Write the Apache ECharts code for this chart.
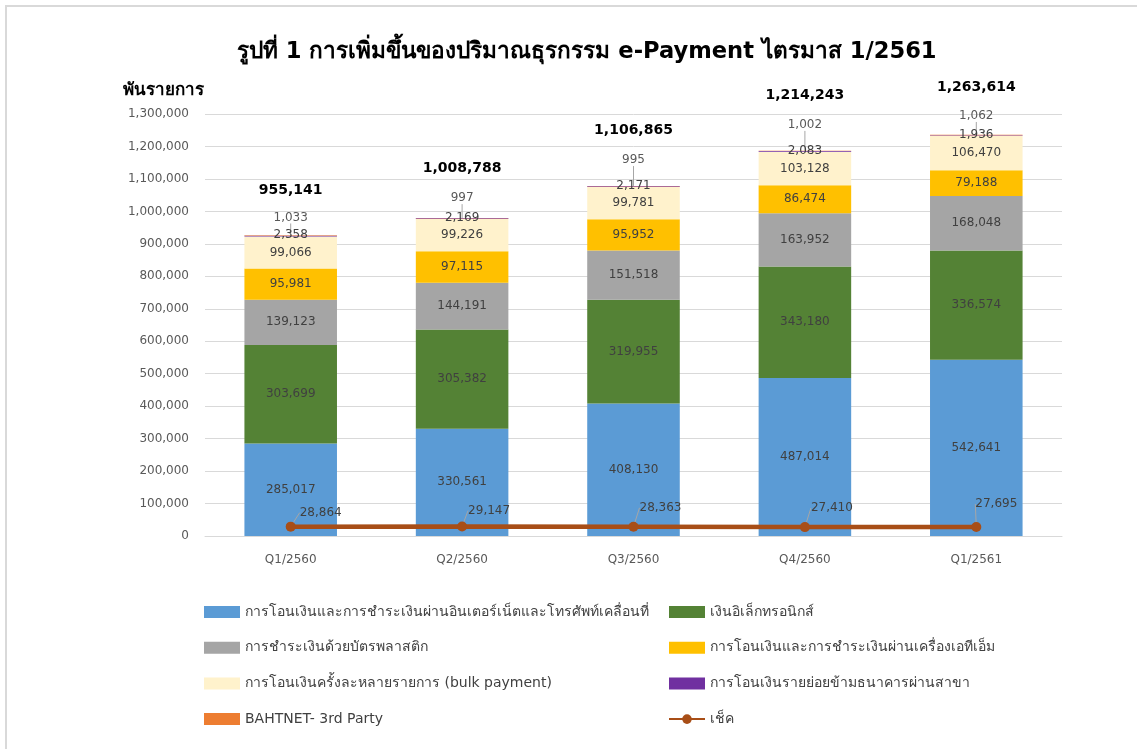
<!DOCTYPE html>
<html>
<head>
<meta charset="utf-8">
<script src="https://cdn.jsdelivr.net/npm/echarts@6/dist/echarts.min.js"></script>
<style>
  html, body { margin: 0; padding: 0; background: #fff; overflow: hidden; }
  #frame { position: absolute; left: 5px; top: 5px; width: 1140px; height: 760px; border: 2px solid #d9d9d9; box-sizing: border-box; }
  #chart { position: absolute; left: 0; top: 0; width: 1137px; height: 749px; }
</style>
</head>
<body>
<div id="frame"></div>
<div id="chart"></div>
<script>
  const quarters = ["Q1/2560", "Q2/2560", "Q3/2560", "Q4/2560", "Q1/2561"];

  const internetMobile = [285017, 330561, 408130, 487014, 542641];
  const eMoney = [303699, 305382, 319955, 343180, 336574];
  const cardPayment = [139123, 144191, 151518, 163952, 168048];
  const atm = [95981, 97115, 95952, 86474, 79188];
  const bulkPayment = [99066, 99226, 99781, 103128, 106470];
  const branchRetail = [2358, 2169, 2171, 2083, 1936];
  const bahtnet = [1033, 997, 995, 1002, 1062];
  const cheque = [28864, 29147, 28363, 27410, 27695];
  const totals = [955141, 1008788, 1106865, 1214243, 1263614];

  const FONT = "Tahoma, 'DejaVu Sans', 'Noto Sans', sans-serif";
  const fmt = (v) => v.toLocaleString("en-US");

  // label shifts (pixels)
  const totalDy = [-45, -50, -56, -55, -47];
  const bahtnetDy = [-18, -20, -26, -26, -19];
  const chequeShift = [[30, -14], [27, -16], [27, -19], [27, -19], [20, -23]];

  const chart = echarts.init(document.getElementById("chart"));

  const segLabel = {
    show: true,
    position: "inside",
    fontFamily: FONT,
    fontSize: 12,
    color: "#404040",
    formatter: (p) => fmt(p.value),
  };

  function barSeries(name, data, color, extra) {
    return Object.assign(
      {
        name: name,
        type: "bar",
        stack: "total",
        barWidth: "54%",
        data: data,
        itemStyle: { color: color },
        label: segLabel,
        emphasis: { disabled: true },
      },
      extra || {}
    );
  }

  const legendText = { fontFamily: FONT, fontSize: 14, color: "#404040" };
  const rectItem = (name) => ({ name: name, icon: "rect" });

  const option = {
    animation: false,
    textStyle: { fontFamily: FONT },
    title: [
      {
        text: "รูปที่ 1 การเพิ่มขึ้นของปริมาณธุรกรรม e-Payment ไตรมาส 1/2561",
        left: 232,
        top: 36,
        textStyle: { fontFamily: FONT, fontSize: 22.6, fontWeight: "bold", color: "#000" },
      },
      {
        text: "พันรายการ",
        left: 118,
        top: 77,
        textStyle: { fontFamily: FONT, fontSize: 17, fontWeight: "bold", color: "#000" },
      },
    ],
    grid: { left: 205, right: 75, top: 114, bottom: 213 },
    legend: [
      {
        left: 199,
        top: 600,
        orient: "vertical",
        itemWidth: 36,
        itemHeight: 12,
        itemGap: 21.7,
        textStyle: legendText,
        data: [
          rectItem("การโอนเงินและการชำระเงินผ่านอินเตอร์เน็ตและโทรศัพท์เคลื่อนที่"),
          rectItem("การชำระเงินด้วยบัตรพลาสติก"),
          rectItem("การโอนเงินครั้งละหลายรายการ (bulk payment)"),
          rectItem("BAHTNET- 3rd Party"),
        ],
      },
      {
        left: 663,
        top: 600,
        orient: "vertical",
        itemWidth: 36,
        itemHeight: 12,
        itemGap: 21.7,
        textStyle: legendText,
        data: [
          rectItem("เงินอิเล็กทรอนิกส์"),
          rectItem("การโอนเงินและการชำระเงินผ่านเครื่องเอทีเอ็ม"),
          rectItem("การโอนเงินรายย่อยข้ามธนาคารผ่านสาขา"),
          "เช็ค",
        ],
      },
    ],
    xAxis: {
      type: "category",
      data: quarters,
      axisTick: { show: false },
      axisLine: { lineStyle: { color: "#d9d9d9" } },
      axisLabel: { fontFamily: FONT, fontSize: 12, color: "#595959", margin: 18 },
    },
    yAxis: {
      type: "value",
      min: 0,
      max: 1300000,
      interval: 100000,
      axisLine: { show: false },
      axisTick: { show: false },
      splitLine: { lineStyle: { color: "#d9d9d9" } },
      axisLabel: {
        fontFamily: FONT,
        fontSize: 12,
        color: "#595959",
        margin: 16,
        formatter: (v) => fmt(v),
      },
    },
    series: [
      barSeries("การโอนเงินและการชำระเงินผ่านอินเตอร์เน็ตและโทรศัพท์เคลื่อนที่", internetMobile, "#5B9BD5"),
      barSeries("เงินอิเล็กทรอนิกส์", eMoney, "#548235"),
      barSeries("การชำระเงินด้วยบัตรพลาสติก", cardPayment, "#A5A5A5"),
      barSeries("การโอนเงินและการชำระเงินผ่านเครื่องเอทีเอ็ม", atm, "#FFC000"),
      barSeries("การโอนเงินครั้งละหลายรายการ (bulk payment)", bulkPayment, "#FFF2CC"),
      barSeries("การโอนเงินรายย่อยข้ามธนาคารผ่านสาขา", branchRetail, "#7030A0", {
        label: Object.assign({}, segLabel, { offset: [0, -1] }),
      }),
      barSeries("BAHTNET- 3rd Party", bahtnet, "#ED7D31", {
        label: Object.assign({}, segLabel, { color: "#595959" }),
        labelLayout: (p) => ({ dy: bahtnetDy[p.dataIndex] }),
        labelLine: { show: true, lineStyle: { color: "#a6a6a6", width: 1 } },
      }),
      {
        name: "ยอดรวม",
        type: "bar",
        stack: "total",
        barWidth: "54%",
        data: quarters.map(() => 0),
        itemStyle: { color: "transparent" },
        label: {
          show: true,
          position: "inside",
          fontFamily: FONT,
          fontSize: 14,
          fontWeight: "bold",
          color: "#000",
          formatter: (p) => fmt(totals[p.dataIndex]),
        },
        labelLayout: (p) => ({ dy: totalDy[p.dataIndex] }),
        emphasis: { disabled: true },
      },
      {
        name: "เช็ค",
        type: "line",
        data: cheque,
        symbol: "circle",
        symbolSize: 10,
        itemStyle: { color: "#A84E17" },
        lineStyle: { color: "#A84E17", width: 4.5 },
        z: 5,
        label: {
          show: true,
          position: "inside",
          fontFamily: FONT,
          fontSize: 12,
          color: "#404040",
          formatter: (p) => fmt(p.value),
        },
        labelLayout: (p) => ({ dx: chequeShift[p.dataIndex][0], dy: chequeShift[p.dataIndex][1] }),
        labelLine: { show: true, lineStyle: { color: "#a6a6a6", width: 1 } },
        emphasis: { disabled: true },
      },
    ],
  };

  chart.setOption(option);
</script>
</body>
</html>
